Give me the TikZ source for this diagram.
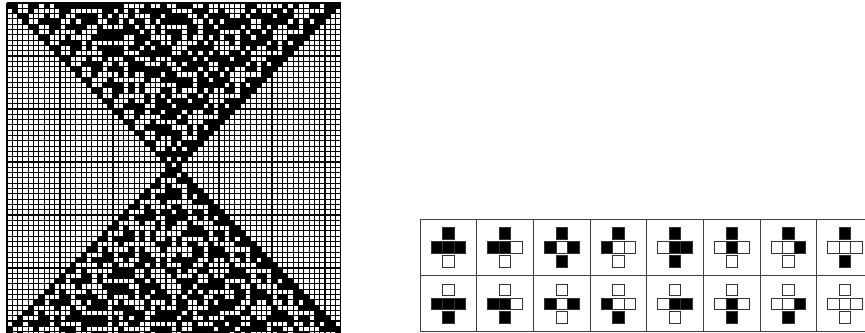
\documentclass[tikz,border=0pt]{standalone}
\usetikzlibrary{positioning}

% ---------------- RULE 214R ----------------
% new cell = f(left, centre, right) XOR the cell two steps back
\def\rulenum{214}
\foreach \k in {0,...,7}{%
  \pgfmathtruncatemacro\bA{floor(\k/4)}%
  \pgfmathtruncatemacro\bB{mod(floor(\k/2),2)}%
  \pgfmathtruncatemacro\bC{mod(\k,2)}%
  \pgfmathtruncatemacro\bit{mod(floor(\rulenum/2^\k),2)}%
  \expandafter\xdef\csname rv\bA\bB\bC\endcsname{\bit}}

% cell value, 0 outside the grid
\newcommand\cav[2]{%
  \ifcsname ca-\number\numexpr#1\relax-\number\numexpr#2\relax\endcsname
    \csname ca-\number\numexpr#1\relax-\number\numexpr#2\relax\endcsname
  \else0\fi}

% one row: #1 row to fill, #2 neighbour row, #3 row two steps back
\newcommand\castep[3]{%
  \foreach \ci in {0,...,62}{%
    \edef\nb{\cav{#2}{\ci-1}\cav{#2}{\ci}\cav{#2}{\ci+1}}%
    \edef\fv{\csname rv\nb\endcsname}%
    \edef\pv{\cav{#3}{\ci}}%
    \ifnum\fv=\pv\relax\def\nv{0}\else\def\nv{1}\fi
    \expandafter\xdef\csname ca-\number\numexpr#1\relax-\ci\endcsname{\nv}%
  }%
}

% seed in the middle, run forward and backward
\foreach \ci in {0,...,62}{%
  \expandafter\xdef\csname ca-30-\ci\endcsname{0}%
  \expandafter\xdef\csname ca-31-\ci\endcsname{0}}
\foreach \ci in {30,32}{\expandafter\xdef\csname ca-30-\ci\endcsname{1}}
\foreach \ci in {30,31,32}{\expandafter\xdef\csname ca-31-\ci\endcsname{1}}
\foreach \ri in {32,...,62}{\castep{\ri}{\ri-1}{\ri-2}}
\foreach \ri in {29,28,...,0}{\castep{\ri}{\ri+1}{\ri+2}}

\begin{document}
\begin{tikzpicture}[
    x=0.03cm, y=0.03cm,
    gridline/.style={draw=black, line width=1pt},
    tableline/.style={draw=black!75, line width=0.6pt},
    iconcell/.style={draw=black!80, line width=0.55pt}
]
\useasboundingbox (0,0) rectangle (865,332);

% ---------------- EVOLUTION ----------------
\begin{scope}[shift={(7,329)}, x=0.159cm, y=0.159cm]
\fill[white] (0,-63) rectangle (63,0);
\foreach \i in {0,...,63}{
  \draw[gridline] (\i,0) -- (\i,-63);
  \draw[gridline] (0,-\i) -- (63,-\i);}
\foreach \ri in {0,...,62}{
  \foreach \ci in {0,...,62}{
    \ifnum\cav{\ri}{\ci}=1
      \fill[black] (\ci,-\ri) rectangle ++(1,-1);
    \fi}}
\end{scope}

% ---------------- RULE ICONS ----------------
\draw[tableline] (420,1) rectangle (873.3,113);
\draw[tableline] (420,57) -- (873.3,57);
\foreach \i in {1,...,7}
  \draw[tableline] (420+56.67*\i,1) -- (420+56.67*\i,113);

\foreach \k [count=\i from 0] in {7,6,...,0}{
  \pgfmathtruncatemacro\bA{floor(\k/4)}
  \pgfmathtruncatemacro\bB{mod(floor(\k/2),2)}
  \pgfmathtruncatemacro\bC{mod(\k,2)}
  \pgfmathtruncatemacro\fv{mod(floor(\rulenum/2^\k),2)}
  \pgfmathsetmacro\xc{448.3+56.67*\i}
  \foreach \tp/\yc in {1/84.5,0/28.3}{
    \ifnum\tp=\fv\relax\def\res{0}\else\def\res{1}\fi
    \foreach \v/\dx/\dy in {\tp/-5.75/8.2, \bA/-17.25/-5.8, \bB/-5.75/-5.8,
                            \bC/5.75/-5.8, \res/-5.75/-19.6}{
      \ifnum\v=1\def\tc{black}\else\def\tc{white}\fi
      \filldraw[iconcell, fill=\tc] (\xc+\dx,\yc+\dy) rectangle ++(11.5,11.5);
    }
  }
}

\end{tikzpicture}
\end{document}
